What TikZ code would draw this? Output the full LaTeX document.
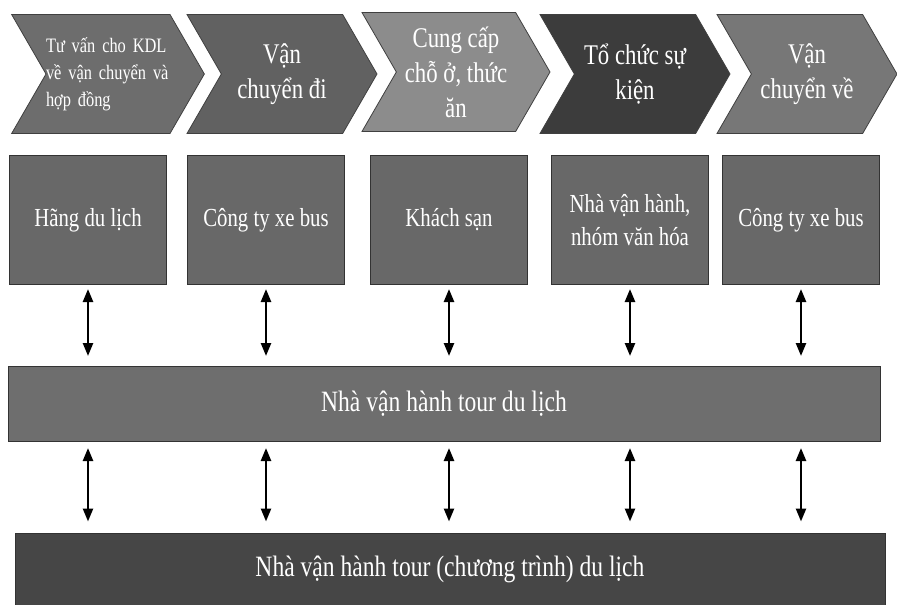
\documentclass[tikz,border=0pt]{standalone}
\usepackage{fontspec}
\setmainfont{Liberation Serif}[FakeStretch=0.8]
\definecolor{xammot}{HTML}{6D6D6D}
\definecolor{xamhai}{HTML}{616161}
\definecolor{xamba}{HTML}{8C8C8C}
\definecolor{xambon}{HTML}{3C3C3C}
\definecolor{xamnam}{HTML}{777777}
\definecolor{xamhop}{HTML}{686868}
\definecolor{xamthanh}{HTML}{6E6E6E}
\definecolor{xamday}{HTML}{464646}
\usetikzlibrary{arrows.meta,shapes.symbols}

\begin{document}
\begin{tikzpicture}[x=1pt,y=-1pt,
    mui/.style={signal,signal to=east,signal from=west,signal pointer angle=120,
      draw=black!75,line width=0.8pt,minimum height=119pt,inner sep=0pt,
      text=white,align=center,font=\fontsize{28.5}{35}\selectfont},
    hop/.style={draw=black!80,line width=1pt,fill=xamhop,text=white,align=center,
      minimum width=157pt,minimum height=129pt,inner sep=0pt,
      font=\fontsize{26}{33}\selectfont},
    thanh/.style={draw=black!80,line width=1pt,text=white,inner sep=0pt,
      font=\fontsize{29.5}{33}\selectfont},
    muiten/.style={{Triangle[length=13pt,width=10pt]}-{Triangle[length=13pt,width=10pt]},
      line width=2.4pt}]
        \useasboundingbox (0,0) rectangle (897,605);
        % ---- cac buoc (mui ten) ----
        \node[mui,fill=xammot,minimum width=190pt,text width=124pt,align=left,
              font=\fontsize{20.5}{27}\selectfont] (c1) at (108,74)
            {Tư vấn cho KDL\\về vận chuyển và\\hợp đồng};
        \node[mui,fill=xamhai,minimum width=190pt] (c2) at (282,74)
            {Vận\\chuyển đi};
        \node[mui,fill=xamba,minimum width=188pt] (c3) at (456,72)
            {Cung cấp\\chỗ ở, thức\\ăn};
        \node[mui,fill=xambon,minimum width=190pt] (c4) at (635,74)
            {Tổ chức sự\\kiện};
        \node[mui,fill=xamnam,minimum width=180pt] (c5) at (807,74)
            {Vận\\chuyển về};
        % ---- cac don vi ----
        \foreach \i/\cx/\lbl in {1/88/{Hãng du lịch}, 2/266/{Công ty xe bus},
            3/449/{Khách sạn}, 4/630/{Nhà vận hành,\\nhóm văn hóa},
            5/801/{Công ty xe bus}} {
          \node[hop] (h\i) at (\cx,220) {\lbl};
        }
        % ---- hai thanh ngang ----
        \node[thanh,fill=xamthanh,minimum width=872pt,minimum height=75pt]
            (nvh) at (444,404) {Nhà vận hành tour du lịch};
        \node[thanh,fill=xamday,minimum width=870pt,minimum height=72pt]
            (ct) at (450,569) {Nhà vận hành tour (chương trình) du lịch};
        % ---- mui ten hai chieu ----
        \foreach \i in {1,...,5} {
          \draw[muiten,shorten <=4pt,shorten >=10pt]
            (h\i.south) -- (h\i.south |- nvh.north);
          \draw[muiten,shorten <=6pt,shorten >=11pt]
            (h\i.south |- nvh.south) -- (h\i.south |- ct.north);
        }
      \end{tikzpicture}
\end{document}
